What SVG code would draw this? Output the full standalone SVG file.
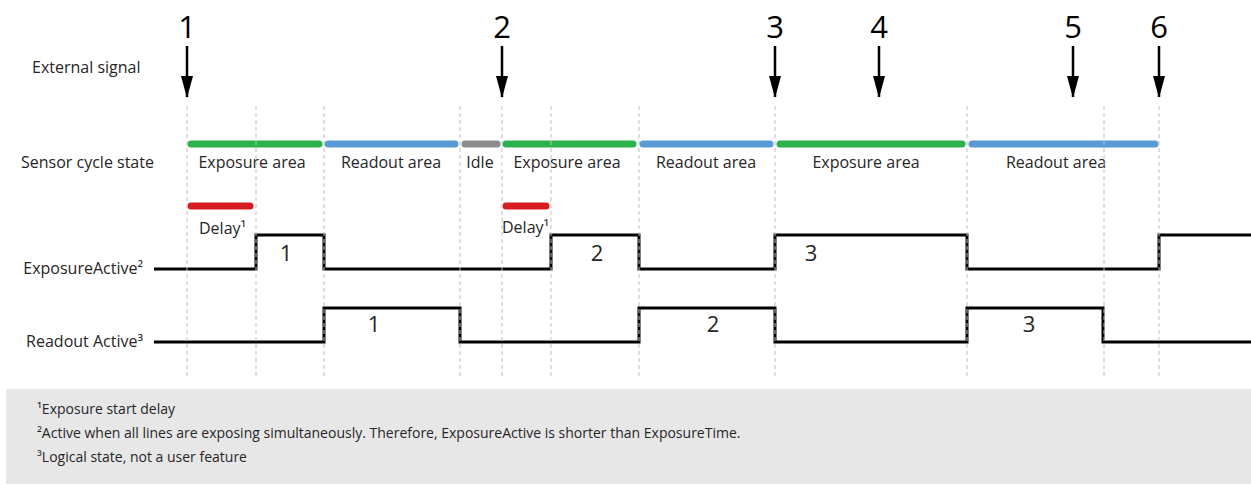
<svg xmlns="http://www.w3.org/2000/svg" width="1251" height="485" viewBox="0 0 1251 485">
<style>
text{font-family:"Open Sans","Liberation Sans",sans-serif;fill:#262626}
.lbl{font-size:16px}
.mid{text-anchor:middle}
.big{font-size:31px;fill:#000;text-anchor:middle}
.num{font-size:22px;text-anchor:middle}
.foot{font-size:14px}
.grid{stroke:#bfbfbf;stroke-width:1;stroke-dasharray:4 3;fill:none}
.bar{stroke-width:7;stroke-linecap:round;fill:none}
.sig{stroke:#000;stroke-width:3;fill:none;stroke-linejoin:miter}
.arr{stroke:#000;stroke-width:2.5;fill:none}
</style>
<defs>
<marker id="ah" markerWidth="22" markerHeight="12" refX="21" refY="6" orient="auto" markerUnits="userSpaceOnUse" viewBox="0 0 22 12">
<path d="M0,0 L22,6 L0,12 Z" fill="#000"/>
</marker>
</defs>
<rect id="footnote-box" x="6" y="389" width="1245" height="95" fill="#e7e7e7"/>
<g id="row-labels">
<text class="lbl" x="32" y="73">External signal</text>
<text class="lbl" x="21" y="168">Sensor cycle state</text>
<text class="lbl" x="143" y="274" text-anchor="end">ExposureActive²</text>
<text class="lbl" x="143" y="347" text-anchor="end">Readout Active³</text>
</g>
<g id="sensor-states">
<line class="bar" x1="191" y1="144" x2="319" y2="144" stroke="#2ab24b"/>
<line class="bar" x1="328" y1="144" x2="455" y2="144" stroke="#5b9bd5"/>
<line class="bar" x1="465" y1="144" x2="497" y2="144" stroke="#8c8c8c"/>
<line class="bar" x1="506" y1="144" x2="633" y2="144" stroke="#2ab24b"/>
<line class="bar" x1="643" y1="144" x2="770" y2="144" stroke="#5b9bd5"/>
<line class="bar" x1="780" y1="144" x2="962" y2="144" stroke="#2ab24b"/>
<line class="bar" x1="972" y1="144" x2="1155" y2="144" stroke="#5b9bd5"/>
<text class="lbl mid" x="252" y="168">Exposure area</text>
<text class="lbl mid" x="391" y="168">Readout area</text>
<text class="lbl mid" x="480" y="168">Idle</text>
<text class="lbl mid" x="567" y="168">Exposure area</text>
<text class="lbl mid" x="706" y="168">Readout area</text>
<text class="lbl mid" x="866" y="168">Exposure area</text>
<text class="lbl mid" x="1056" y="168">Readout area</text>
</g>
<g id="delays">
<line class="bar" x1="191" y1="206" x2="250" y2="206" stroke="#d81b1e"/>
<line class="bar" x1="506" y1="206" x2="546" y2="206" stroke="#d81b1e"/>
<text class="lbl" x="199" y="234">Delay¹</text>
<text class="lbl" x="502" y="233">Delay¹</text>
</g>
<g id="exposure-active">
<path class="sig" d="M154,269 H256 V235 H324 V269 H551 V235 H639 V269 H775 V235 H967 V269 H1159 V235 H1251"/>
<text class="num" x="286" y="261">1</text>
<text class="num" x="597" y="261">2</text>
<text class="num" x="811" y="261">3</text>
</g>
<g id="readout-active">
<path class="sig" d="M154,342 H324 V308 H460 V342 H639 V308 H775 V342 H967 V308 H1103 V342 H1251"/>
<text class="num" x="374" y="332">1</text>
<text class="num" x="713" y="332">2</text>
<text class="num" x="1029" y="332">3</text>
</g>
<g id="grid">
<line class="grid" x1="187" y1="106" x2="187" y2="377"/>
<line class="grid" x1="256" y1="106" x2="256" y2="377"/>
<line class="grid" x1="324" y1="106" x2="324" y2="377"/>
<line class="grid" x1="460" y1="106" x2="460" y2="377"/>
<line class="grid" x1="502" y1="106" x2="502" y2="377"/>
<line class="grid" x1="551" y1="106" x2="551" y2="377"/>
<line class="grid" x1="639" y1="106" x2="639" y2="377"/>
<line class="grid" x1="775" y1="106" x2="775" y2="377"/>
<line class="grid" x1="967" y1="106" x2="967" y2="377"/>
<line class="grid" x1="1104" y1="106" x2="1104" y2="377"/>
<line class="grid" x1="1159" y1="106" x2="1159" y2="377"/>
</g>
<g id="connectors">
<line class="arr" x1="187" y1="46" x2="187" y2="97" marker-end="url(#ah)"/>
<line class="arr" x1="502" y1="46" x2="502" y2="97" marker-end="url(#ah)"/>
<line class="arr" x1="775" y1="46" x2="775" y2="97" marker-end="url(#ah)"/>
<line class="arr" x1="879" y1="46" x2="879" y2="97" marker-end="url(#ah)"/>
<line class="arr" x1="1073" y1="46" x2="1073" y2="97" marker-end="url(#ah)"/>
<line class="arr" x1="1159" y1="46" x2="1159" y2="97" marker-end="url(#ah)"/>
</g>
<g id="event-numbers">
<text class="big" x="187" y="38">1</text>
<text class="big" x="502" y="38">2</text>
<text class="big" x="775" y="38">3</text>
<text class="big" x="879" y="38">4</text>
<text class="big" x="1073" y="38">5</text>
<text class="big" x="1159" y="38">6</text>
</g>
<g id="footnotes">
<text class="foot" x="37" y="414">¹Exposure start delay</text>
<text class="foot" x="37" y="438">²Active when all lines are exposing simultaneously. Therefore, ExposureActive is shorter than ExposureTime.</text>
<text class="foot" x="37" y="462">³Logical state, not a user feature</text>
</g>
</svg>
